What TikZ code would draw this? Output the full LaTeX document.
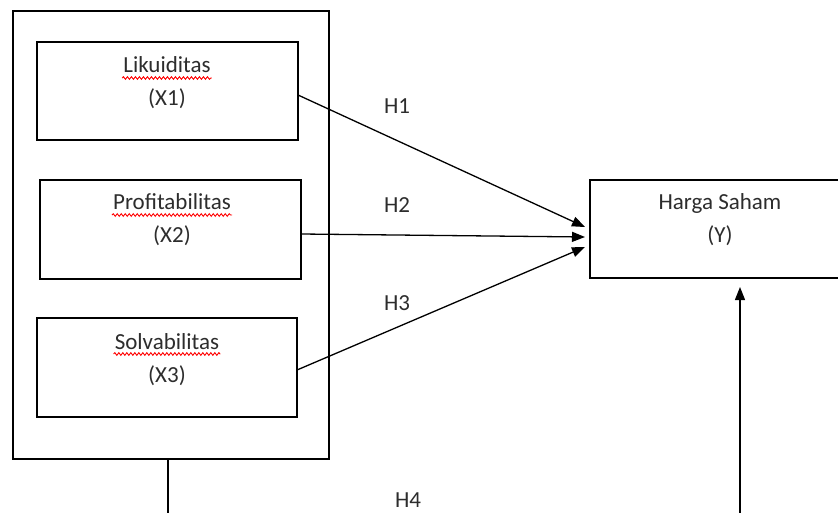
\documentclass[tikz,border=0pt]{standalone}
\usepackage{fontspec}
\setmainfont{Carlito}
\usetikzlibrary{arrows.meta,decorations.pathmorphing}
\definecolor{txt}{RGB}{45,45,45}
\begin{document}
\begin{tikzpicture}[x=1pt,y=-1pt,
  box/.style={draw=black,line width=1.4pt,inner sep=0pt,outer sep=0pt,fill=none},
  lbl/.style={text=txt,inner sep=0pt,anchor=base,font=\fontsize{23}{28}\selectfont},
  conn/.style={line width=1.3pt,-{Triangle[length=13pt,width=10pt]}},
  plain/.style={line width=1.3pt},
  wavy/.style={red,line width=0.9pt,decorate,decoration={snake,amplitude=1.3pt,segment length=4pt}}]
\clip (0,0) rectangle (838,513);
\fill[white] (0,0) rectangle (838,513);
% boxes
\node[box,minimum width=316pt,minimum height=448pt] (outer) at (171,235) {};
\node[box,minimum width=261pt,minimum height=98pt] (b1) at (167.5,91) {};
\node[box,minimum width=261pt,minimum height=99pt] (b2) at (170.5,229.5) {};
\node[box,minimum width=260pt,minimum height=99pt] (b3) at (167,367.5) {};
\node[box,minimum width=270pt,minimum height=98pt] (yb) at (725,229) {};
% texts
\node[lbl] (t1) at (167,73) {Likuiditas};
\node[lbl] (t1b) at (167,106) {(X1)};
\node[lbl] (t2) at (172,210) {Profitabilitas};
\node[lbl] (t2b) at (172,243) {(X2)};
\node[lbl] (t3) at (167,349) {Solvabilitas};
\node[lbl] (t3b) at (167,382) {(X3)};
\node[lbl] (ty) at (720,210) {Harga Saham};
\node[lbl] (tyb) at (720,243) {(Y)};
\node[lbl] (h1) at (397,114) {H1};
\node[lbl] (h2) at (397,213) {H2};
\node[lbl] (h3) at (397,310) {H3};
\node[lbl] (h4) at (408,507) {H4};
% spell-check underlines
\draw[wavy] ([xshift=-1pt,yshift=-5pt]t1.base west) -- ([xshift=1pt,yshift=-5pt]t1.base east);
\draw[wavy] ([xshift=-1pt,yshift=-5pt]t2.base west) -- ([xshift=1pt,yshift=-5pt]t2.base east);
\draw[wavy] ([xshift=-1pt,yshift=-5pt]t3.base west) -- ([xshift=1pt,yshift=-5pt]t3.base east);
% connectors
\coordinate (a1) at (585,227);
\coordinate (a2) at (585,237);
\coordinate (a3) at (585,247);
\draw[conn] ([yshift=-4pt]b1.east) -- (a1);
\draw[conn] ([yshift=-4.5pt]b2.east) -- (a2);
\draw[conn] ([yshift=-2.5pt]b3.east) -- (a3);
\coordinate (d1) at (168,530);
\coordinate (d2) at (740,530);
\coordinate (up) at (740,287);
\draw[plain] (outer.south -| d1) -- (d1);
\draw[conn] (d2) -- (up);
\end{tikzpicture}
\end{document}
